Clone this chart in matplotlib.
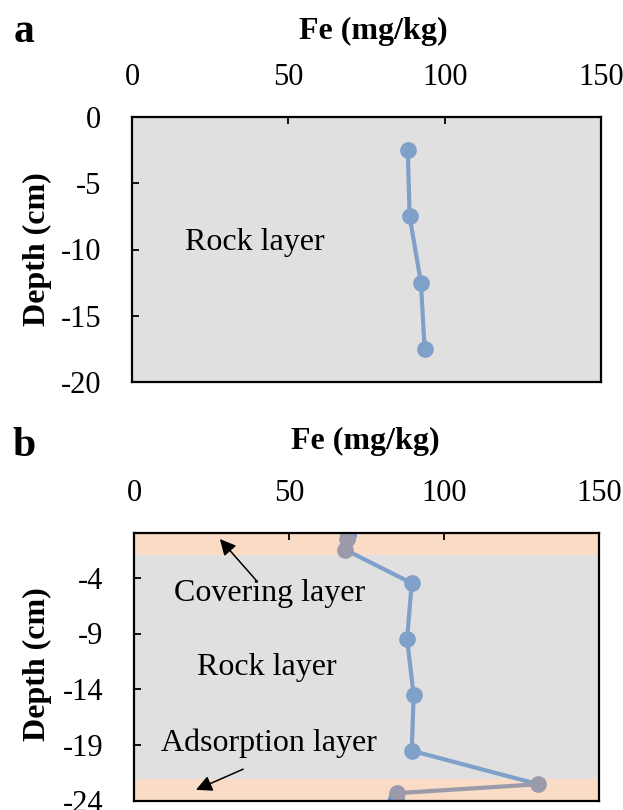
import matplotlib
matplotlib.use("Agg")
import matplotlib.pyplot as plt

# ---------------- data ----------------
# panel a
a_fe = [88.2, 88.8, 92.4, 93.6]
a_depth = [-2.5, -7.5, -12.5, -17.5]
a_xticks = [0, 50, 100, 150]
a_yticks = [0, -5, -10, -15, -20]

# panel b
b_cover_fe = [68.8, 68.2]
b_cover_depth = [-0.5, -1.5]
b_rock_fe = [89.6, 88.1, 90.2, 89.6]
b_rock_depth = [-4.5, -9.5, -14.5, -19.5]
b_ads_fe = [130.4, 84.7]
b_ads_depth = [-22.5, -23.3]
b_edge_fe = [68.9, 84.5]
b_edge_depth = [-0.2, -23.8]
b_xticks = [0, 50, 100, 150]
b_yticks = [-4, -9, -14, -19, -24]
b_cover_band = (-2.0, 0.0)
b_ads_band = (-24.0, -22.0)

# ---------------- style ----------------
plt.rcParams['font.family'] = ['Liberation Serif', 'DejaVu Serif']
BG = '#e0e0e0'
BAND = '#f9dbc6'
BLUE = '#7fa0c8'
BLUE2 = '#5f94d8'
GRAY = '#9a9aab'
TICK_FS = 22
LAB_FS = 23
TXT_FS = 23
MS = 11
LW = 3.0

fig = plt.figure(figsize=(6.23, 8.10), dpi=100)

def style_axes(ax, xticks, yticks, xpad, ypad):
    ax.set_facecolor(BG)
    ax.xaxis.tick_top()
    ax.set_xticks(xticks)
    ax.set_yticks(yticks)
    ax.set_yticklabels([str(t) for t in yticks])
    ax.tick_params(axis='x', direction='in', length=5, width=1.3, pad=xpad,
                   labelsize=TICK_FS, colors='black', top=True, bottom=False)
    ax.tick_params(axis='y', direction='in', length=5, width=1.3, pad=ypad,
                   labelsize=TICK_FS, colors='black')
    for s in ax.spines.values():
        s.set_linewidth(1.6)
        s.set_color('black')
        s.set_zorder(10)

# ---------------- panel a ----------------
axa = fig.add_axes([132/623, 1-382/810, (601-132)/623, (382-117)/810])
axa.set_xlim(0, 150)
axa.set_ylim(-20, 0)
style_axes(axa, a_xticks, a_yticks, 18, 22)
axa.plot(a_fe, a_depth, color=BLUE, lw=LW, marker='o', ms=MS,
         markerfacecolor=BLUE, markeredgecolor=BLUE, zorder=5)
axa.text(39.3, -9.5, 'Rock layer', fontsize=TXT_FS, ha='center', va='center')
fig.text(373/623, 1-31/810, 'Fe (mg/kg)', fontsize=LAB_FS, fontweight='bold',
         ha='center', va='center')
fig.text(37/623, 1-249/810, 'Depth (cm)', fontsize=LAB_FS, fontweight='bold',
         ha='center', va='center', rotation=90)
fig.text(24/623, 1-32/810, 'a', fontsize=30, fontweight='bold',
         ha='center', va='center')

# ---------------- panel b ----------------
axb = fig.add_axes([134/623, 1-801/810, (599-134)/623, (801-533)/810])
axb.set_xlim(0, 150)
axb.set_ylim(-24, 0)
style_axes(axb, b_xticks, b_yticks, 18, 22)
axb.axhspan(b_cover_band[0], b_cover_band[1], color=BAND, zorder=0.5, lw=0)
axb.axhspan(b_ads_band[0], b_ads_band[1], color=BAND, zorder=0.5, lw=0)

# partially hidden blue end markers
axb.plot(b_edge_fe, b_edge_depth, ls='none', marker='o', ms=MS,
         markerfacecolor=BLUE2, markeredgecolor=BLUE2, zorder=3)
# blue connecting line through rock layer
line_fe = [b_cover_fe[-1]] + b_rock_fe + [b_ads_fe[0]]
line_depth = [b_cover_depth[-1]] + b_rock_depth + [b_ads_depth[0]]
axb.plot(line_fe, line_depth, color=BLUE, lw=LW, zorder=4)
axb.plot(b_rock_fe, b_rock_depth, ls='none', marker='o', ms=MS,
         markerfacecolor=BLUE, markeredgecolor=BLUE, zorder=5)
# gray covering / adsorption points
axb.plot(b_cover_fe, b_cover_depth, color=GRAY, lw=LW, marker='o', ms=MS,
         markerfacecolor=GRAY, markeredgecolor=GRAY, zorder=6)
axb.plot(b_ads_fe, b_ads_depth, color=GRAY, lw=LW, marker='o', ms=MS,
         markerfacecolor=GRAY, markeredgecolor=GRAY, zorder=6)

axb.text(43.7, -5.4, 'Covering layer', fontsize=TXT_FS, ha='center', va='center', zorder=7)
axb.text(42.9, -12.0, 'Rock layer', fontsize=TXT_FS, ha='center', va='center', zorder=7)
axb.text(43.5, -18.8, 'Adsorption layer', fontsize=TXT_FS, ha='center', va='center', zorder=7)

axb.annotate('', xy=(27.7, -0.54), xytext=(39.6, -4.3),
             arrowprops=dict(arrowstyle='-|>', color='black', lw=1.1,
                             mutation_scale=24, shrinkA=0, shrinkB=0), zorder=8)
axb.annotate('', xy=(20.0, -23.0), xytext=(35.2, -21.15),
             arrowprops=dict(arrowstyle='-|>', color='black', lw=1.1,
                             mutation_scale=24, shrinkA=0, shrinkB=0), zorder=8)

fig.text(365/623, 1-441/810, 'Fe (mg/kg)', fontsize=LAB_FS, fontweight='bold',
         ha='center', va='center')
fig.text(37/623, 1-664/810, 'Depth (cm)', fontsize=LAB_FS, fontweight='bold',
         ha='center', va='center', rotation=90)
fig.text(24/623, 1-446/810, 'b', fontsize=30, fontweight='bold',
         ha='center', va='center')

fig.savefig('out.png', dpi=100)
